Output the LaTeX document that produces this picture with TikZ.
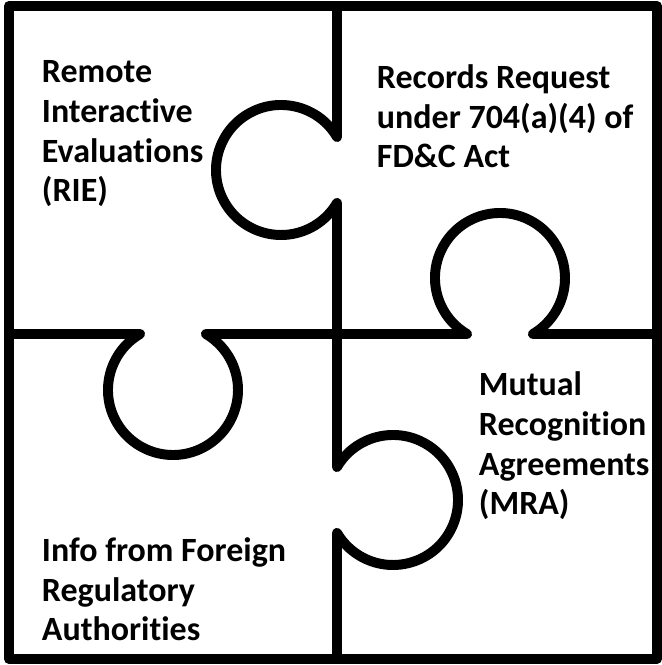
\documentclass[tikz,border=0pt]{standalone}
\usepackage{fontspec}
\setmainfont[Ligatures=NoCommon]{Carlito}
\usepackage{tikz}

\begin{document}
\begin{tikzpicture}[x=0.03cm, y=0.03cm, line width=8.5pt, line join=round,
      every node/.append style={inner sep=0pt, align=left, anchor=base west,
        font=\bfseries\fontsize{29}{34.1}\selectfont}]
    \tikzstyle{cut} = [draw=black]
    \useasboundingbox (0,0) rectangle (661,665);
    \draw[cut] (9,6) rectangle (657,659);
    % vertical cut, knob to the left on top, knob to the right below
    \draw[cut] (337,659) -- (337,528)
      arc[start angle=30.5, end angle=329.5, radius=65] -- (337,198)
      arc[start angle=149.5, end angle=-149.5, radius=65] -- (337,6);
    % horizontal cut, knob down on the left, knob up on the right
    \draw[cut] (9,331) -- (140,331)
      arc[start angle=120.5, end angle=419.5, radius=65] -- (467,331)
      arc[start angle=239.5, end angle=-59.5, radius=65] -- (657,331);
    % anchors sit on the last line of each text
    \node (rie) at (37,463) {Remote\\Interactive\\Evaluations\\(RIE)};
    \node (records) at (372,497) {Records Request\\under 704(a)(4) of\\FD\&C Act};
    \node (mra) at (474,150) {Mutual\\Recognition\\Agreements\\(MRA)};
    \node (foreign) at (37,24) {Info from Foreign\\Regulatory\\Authorities};
\end{tikzpicture}
\end{document}
